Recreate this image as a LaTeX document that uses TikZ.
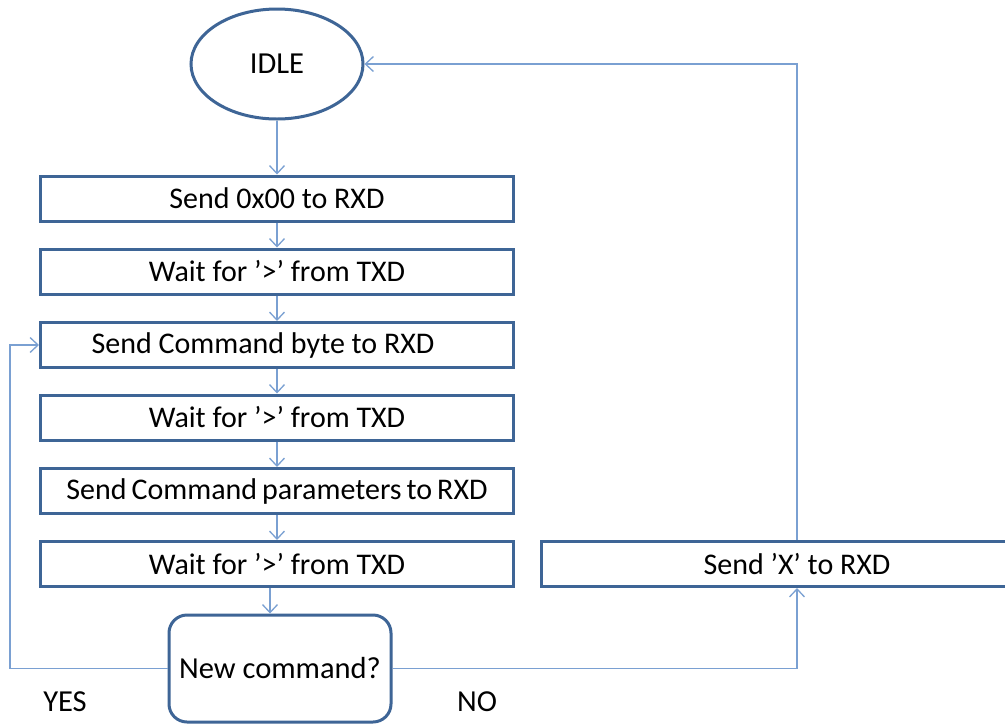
\documentclass[tikz,border=0pt]{standalone}
\usepackage{fontspec}
\setmainfont{Carlito}
\usetikzlibrary{shapes.geometric,arrows.meta}
\definecolor{boxblue}{RGB}{62,101,150}
\definecolor{lineblue}{RGB}{122,160,210}
\tikzset{
    stepbox/.style={draw=boxblue, line width=3pt, minimum width=473pt, minimum height=45pt, inner sep=0pt, font=\fontsize{30}{34}\selectfont},
    conn/.style={draw=lineblue, line width=1.3pt, -{Straight Barb[length=8pt,width=15pt,line width=1.3pt]}},
    lbl/.style={font=\fontsize{30.5}{34}\selectfont}
}
\begin{document}
\begin{tikzpicture}[x=1pt, y=-1pt]
    \clip (0, 0) rectangle (1005, 724);
    \fill[white] (0, 0) rectangle (1005, 724);
    \node[ellipse, draw=boxblue, line width=3pt, minimum width=172pt, minimum height=110pt, inner sep=0pt, font=\fontsize{30.5}{34}\selectfont] (idle) at (277, 64) {IDLE};
    \node[stepbox] (b1) at (277, 198.5) {Send 0x00 to RXD};
    \node[stepbox] (b2) at (277, 271.5) {Wait for '>' from TXD};
    \node[stepbox] (b3) at (277, 345) {Send Command byte to RXD\kern28pt};
    \node[stepbox] (b4) at (277, 417.5) {Wait for '>' from TXD};
    \node[stepbox] (b5) at (277, 491) {\spaceskip=5pt plus 1pt Send Command parameters to RXD};
    \node[stepbox] (b6) at (277, 564) {Wait for '>' from TXD};
    \node[stepbox, minimum width=512pt] (sendx) at (797, 564) {Send 'X' to RXD};
    \node[draw=boxblue, line width=3pt, rounded corners=18pt, minimum width=222pt, minimum height=107pt, font=\fontsize{30.5}{34}\selectfont] (dec) at (280, 668.5) {New command?};
    \node[lbl] (yes) at (65, 702) {YES};
    \node[lbl] (no) at (477, 702) {NO};
    \coordinate (loop) at (10, 668.5);
%    straight down the column
    \draw[conn] (idle.south) -- (b1.north);
    \draw[conn] (b1.south) -- (b2.north);
    \draw[conn] (b2.south) -- (b3.north);
    \draw[conn] (b3.south) -- (b4.north);
    \draw[conn] (b4.south) -- (b5.north);
    \draw[conn] (b5.south) -- (b6.north);
    \draw[conn] ([xshift=-7pt]b6.south) -- ([xshift=-7pt]b6.south |- dec.north);
%    YES / NO branches
    \draw[conn] (dec.west) -- (loop) |- (b3.west);
    \draw[conn] (dec.east) -| (sendx.south);
    \draw[conn] (sendx.north) |- (idle.east);
\end{tikzpicture}
\end{document}
